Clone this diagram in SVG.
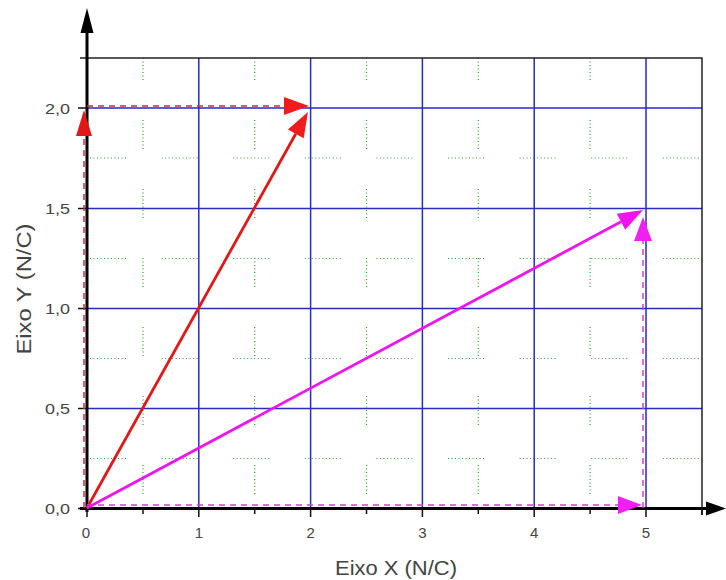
<svg xmlns="http://www.w3.org/2000/svg" width="726" height="580" viewBox="0 0 726 580">
<style>
.bg{fill:#ffffff}
.major{stroke:#2a2ac4;stroke-width:1.5;fill:none}
.minorv{stroke:#2f9f2f;stroke-width:1.2;fill:none;stroke-dasharray:1 2.5 1 2.5 1 2.5 1 2.5 1 2.5 1 2.5 1 2.5 1 2.5 1 40;stroke-dashoffset:7}
.minorh{stroke:#2f9f2f;stroke-width:1.2;fill:none;stroke-dasharray:1 2.5 1 2.5 1 2.5 1 2.5 1 2.5 1 2.5 1 2.5 1 2.5 1 2.5 1 2.5 1 35.6;stroke-dashoffset:68.6}
.frame{stroke:#222;stroke-width:1.5;fill:none}
.axis{stroke:#000;stroke-width:3;fill:none}
.tick{stroke:#111;stroke-width:1.5}
.lbl{font-family:"Liberation Sans",Arial,sans-serif;font-size:15px;fill:#444}
.title{font-family:"Liberation Sans",Arial,sans-serif;font-size:20px;fill:#444}
.red{stroke:#e01818;stroke-width:2.8;fill:none}
.mag{stroke:#ee14ee;stroke-width:2.8;fill:none}
.reddash{stroke:#d02848;stroke-width:1.5;fill:none;stroke-dasharray:6 5}
.magdash{stroke:#d040d0;stroke-width:1.5;fill:none;stroke-dasharray:6 5}
</style>
<defs>
<marker id="hRed" markerUnits="userSpaceOnUse" orient="auto" refX="0" refY="8" markerWidth="26" markerHeight="16" viewBox="0 0 26 16" overflow="visible"><path d="M0,0 L26,8 L0,16 z" fill="#e01818"/></marker>
<marker id="hRed2" markerUnits="userSpaceOnUse" orient="auto" refX="0" refY="9" markerWidth="25" markerHeight="18" viewBox="0 0 25 18" overflow="visible"><path d="M0,0 L25,9 L0,18 z" fill="#ee1c1c"/></marker>
<marker id="hMag" markerUnits="userSpaceOnUse" orient="auto" refX="0" refY="9" markerWidth="25" markerHeight="18" viewBox="0 0 25 18" overflow="visible"><path d="M0,0 L25,9 L0,18 z" fill="#ee14ee"/></marker>
<marker id="hMag2" markerUnits="userSpaceOnUse" orient="auto" refX="0" refY="9" markerWidth="24" markerHeight="18" viewBox="0 0 24 18" overflow="visible"><path d="M0,0 L24,9 L0,18 z" fill="#f020f0"/></marker>
</defs>
<rect class="bg" x="0" y="0" width="726" height="580"/>

<g id="minor-grid">
<path class="minorv" d="M143,58V508M254.7,58V508M366.5,58V508M478.3,58V508M590.1,58V508"/>
<path class="minorh" d="M87,158H702M87,258.5H702M87,358.5H702M87,458.5H702"/>
</g>

<g id="major-grid">
<path class="major" d="M198.8,58V508M310.6,58V508M422.4,58V508M534.2,58V508M646,58V508"/>
<path class="major" d="M87,108H702M87,208.5H702M87,308.5H702M87,408.5H702"/>
</g>

<g id="frame">
<path class="frame" d="M80,58H702V515"/>
</g>

<g id="axes">
<path class="axis" d="M87,30V512"/>
<polygon points="87,8 80.5,33 93.5,33" fill="#000"/>
<path class="axis" d="M80,508.5H708"/>
<polygon points="726,508.5 706,501.5 706,515.5" fill="#000"/>
<path class="tick" d="M78,108H87M78,208.5H87M78,308.5H87M78,408.5H87M78,508.5H87"/>
<path class="tick" d="M87,508V517M198.8,508V517M310.6,508V517M422.4,508V517M534.2,508V517M646,508V517"/>
<path class="tick" d="M143,508V514M254.7,508V514M366.5,508V514M478.3,508V514M590.1,508V514M702,508V515"/>
</g>

<g id="y-labels">
<text class="lbl" x="70" y="113.5" text-anchor="end" textLength="25" lengthAdjust="spacingAndGlyphs">2,0</text>
<text class="lbl" x="70" y="214" text-anchor="end" textLength="25" lengthAdjust="spacingAndGlyphs">1,5</text>
<text class="lbl" x="70" y="314" text-anchor="end" textLength="25" lengthAdjust="spacingAndGlyphs">1,0</text>
<text class="lbl" x="70" y="414" text-anchor="end" textLength="25" lengthAdjust="spacingAndGlyphs">0,5</text>
<text class="lbl" x="70" y="514" text-anchor="end" textLength="25" lengthAdjust="spacingAndGlyphs">0,0</text>
</g>

<g id="x-labels">
<text class="lbl" x="86" y="538" text-anchor="middle">0</text>
<text class="lbl" x="198.8" y="538" text-anchor="middle">1</text>
<text class="lbl" x="310.6" y="538" text-anchor="middle">2</text>
<text class="lbl" x="422.4" y="538" text-anchor="middle">3</text>
<text class="lbl" x="534.2" y="538" text-anchor="middle">4</text>
<text class="lbl" x="646" y="538" text-anchor="middle">5</text>
</g>

<g id="axis-titles">
<text class="title" x="396" y="575" text-anchor="middle" textLength="122" lengthAdjust="spacingAndGlyphs">Eixo X (N/C)</text>
<text class="title" transform="translate(31,289) rotate(-90)" x="0" y="0" text-anchor="middle" textLength="131" lengthAdjust="spacingAndGlyphs">Eixo Y (N/C)</text>
</g>

<g id="connectors">
<path id="red-x" class="reddash" d="M87,106H284" marker-end="url(#hRed2)"/>
<path id="red-y" class="reddash" d="M84,508V136" marker-end="url(#hRed)"/>
<path id="red-vector" class="red" d="M87,508L295.8,133.8" marker-end="url(#hRed2)"/>
<path id="mag-x" class="magdash" d="M87,505H618" marker-end="url(#hMag2)"/>
<path id="mag-y" class="magdash" d="M643,508V241" marker-end="url(#hMag2)"/>
<path id="mag-vector" class="mag" d="M87,508L621,221.8" marker-end="url(#hMag)"/>
</g>
</svg>
